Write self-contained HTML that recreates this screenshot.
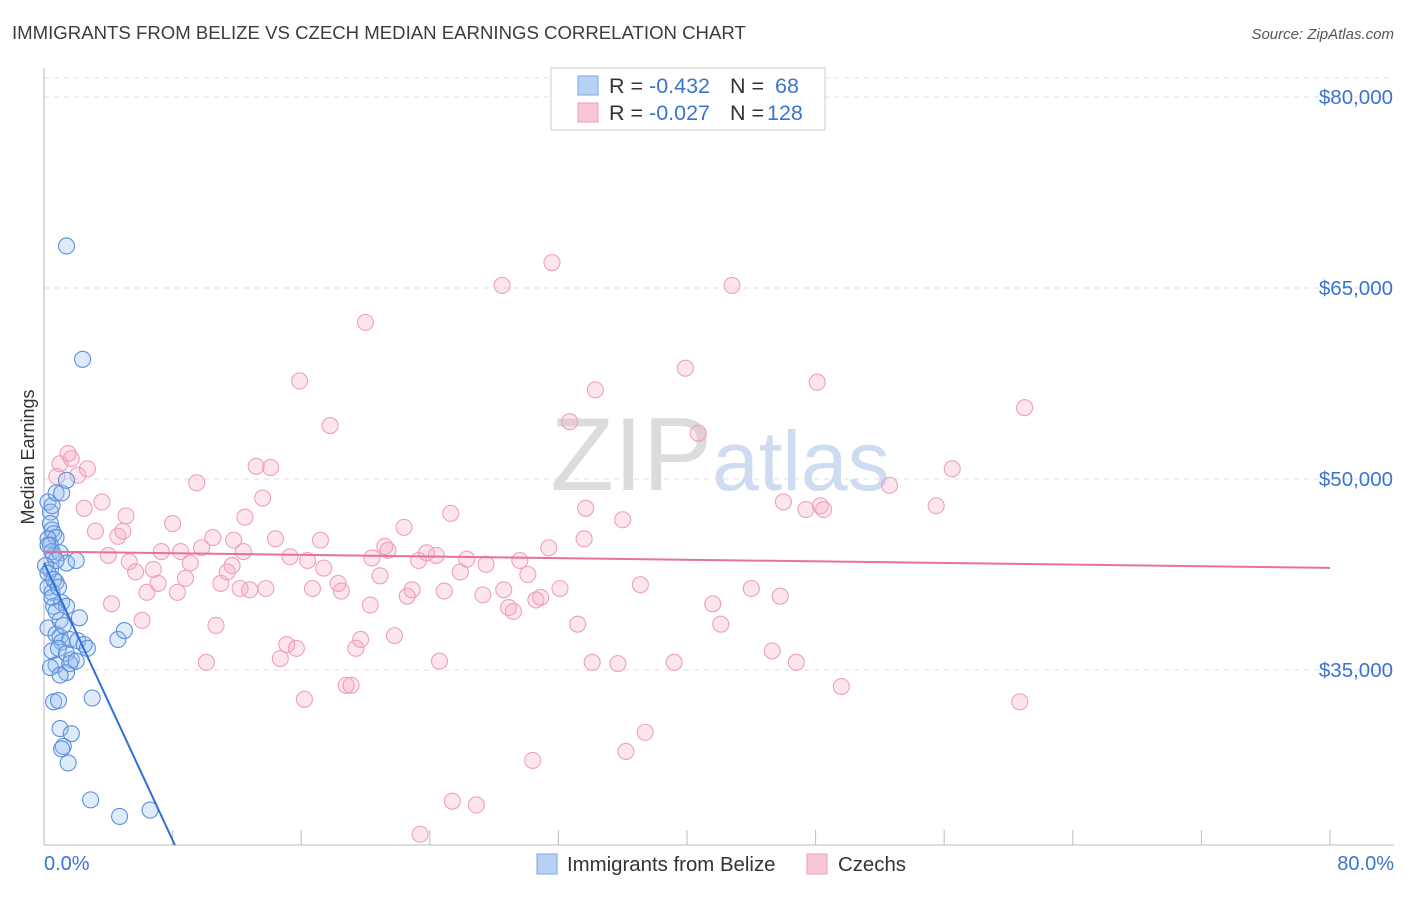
<!DOCTYPE html>
<html><head><meta charset="utf-8"><style>
body{margin:0;background:#fff;font-family:"Liberation Sans",sans-serif;}
svg text{font-family:"Liberation Sans",sans-serif;}
</style></head><body>
<svg id="chart" width="1406" height="892" xmlns="http://www.w3.org/2000/svg">
<text x="12" y="39" font-size="18.6" fill="#3c3c3c">IMMIGRANTS FROM BELIZE VS CZECH MEDIAN EARNINGS CORRELATION CHART</text>
<text x="1394" y="39" font-size="15" fill="#555" text-anchor="end" font-style="italic">Source: ZipAtlas.com</text>
<text x="720" y="490" font-size="104" text-anchor="middle" font-family="Liberation Serif"><tspan fill="#dcdcdc">ZIP</tspan><tspan fill="#cddcf0" font-family="Liberation Sans" font-size="84">atlas</tspan></text>
<text transform="translate(34,457) rotate(-90)" font-size="18" fill="#333" text-anchor="middle">Median Earnings</text>
<g id="grid"></g><g id="pink"></g><g id="blue"></g><g id="lines"></g>
<g>
<rect x="551" y="68" width="274" height="62" fill="#fff" stroke="#ccc"/>
<rect x="578" y="76" width="20" height="19" fill="#b7d1f5" stroke="#7aa6e4"/>
<rect x="578" y="103" width="20" height="19" fill="#f8c6d4" stroke="#eba0b8"/>
<text x="609" y="93" font-size="21.5" fill="#333">R = <tspan fill="#3a74d2">-0.432</tspan><tspan x="730">N = </tspan><tspan x="775" fill="#3a74d2">68</tspan></text>
<text x="609" y="120" font-size="21.5" fill="#333">R = <tspan fill="#3a74d2">-0.027</tspan><tspan x="730">N = </tspan><tspan x="767" fill="#3a74d2">128</tspan></text>
</g>
<text x="44" y="870" font-size="20" fill="#3a74d2">0.0%</text>
<text x="1394" y="870" font-size="20" fill="#3a74d2" text-anchor="end">80.0%</text>
<rect x="537" y="854" width="20" height="20" fill="#b7d1f5" stroke="#7aa6e4"/>
<text x="567" y="871" font-size="20.4" fill="#333">Immigrants from Belize</text>
<rect x="807" y="854" width="20" height="20" fill="#f8c6d4" stroke="#eba0b8"/>
<text x="838" y="871" font-size="20.4" fill="#333">Czechs</text>
</svg>
<script>
const yTicks=[35000,50000,65000,80000];
const xTicks=[0,8,16,24,32,40,48,56,64,72,80];
const pinkX=[0.8,1.0,1.5,1.7,2.1,2.7,2.5,3.6,3.2,4.0,4.2,4.6,4.9,5.1,5.3,5.7,6.1,6.4,6.8,7.1,7.3,8.0,8.3,8.5,8.8,9.1,9.5,9.8,10.1,10.5,10.7,11.0,11.4,11.7,11.8,12.2,12.4,12.5,12.8,13.2,13.6,13.8,14.1,14.4,14.7,15.1,15.3,15.7,15.9,16.2,16.4,16.7,17.2,17.4,17.8,18.3,18.5,18.8,19.1,19.4,19.7,20.0,20.3,20.4,20.9,21.2,21.4,21.8,22.4,22.6,22.9,23.3,23.4,23.8,24.4,24.6,24.9,25.3,25.4,25.9,26.3,26.9,27.3,27.5,28.5,28.6,28.9,29.2,29.6,30.1,30.4,30.6,30.9,31.4,31.6,32.1,32.7,33.2,33.6,33.7,34.1,34.3,35.7,36.0,36.2,37.1,37.4,39.2,39.9,40.7,41.6,42.1,42.8,44.0,45.3,45.8,46.0,46.8,47.4,48.1,48.3,48.5,49.6,52.6,55.5,56.5,60.7,61.0];
const pinkY=[50.2,51.2,52.0,51.6,50.3,50.8,47.7,48.2,45.9,44.0,40.2,45.5,45.9,47.1,43.5,42.7,38.9,41.1,42.9,41.8,44.3,46.5,41.1,44.3,42.2,43.4,49.7,44.6,35.6,45.4,38.5,41.8,42.7,43.2,45.2,41.4,44.3,47.0,41.3,51.0,48.5,41.4,50.9,45.3,35.9,37.0,43.9,36.7,57.7,32.7,43.6,41.4,45.2,43.0,54.2,41.8,41.2,33.8,33.8,36.7,37.4,62.3,40.1,43.8,42.4,44.7,44.4,37.7,46.2,40.8,41.3,43.6,22.1,44.2,44.0,35.7,41.2,47.3,24.7,42.7,43.7,24.4,40.9,43.3,65.2,41.3,39.9,39.6,43.6,42.5,27.9,40.5,40.7,44.6,67.0,41.4,54.5,38.6,45.3,47.7,35.6,57.0,35.5,46.8,28.6,41.7,30.1,35.6,58.7,53.6,40.2,38.6,65.2,41.4,36.5,40.8,48.2,35.6,47.6,57.6,47.9,47.6,33.7,49.5,47.9,50.8,32.5,55.6];
const blueX=[1.4,2.4,0.25,0.4,0.5,0.75,1.1,1.4,0.4,0.5,0.6,0.75,0.25,0.4,0.5,0.6,1.0,1.4,2.0,0.4,0.75,0.25,0.5,0.6,1.1,1.4,2.2,0.25,0.75,1.0,1.1,1.6,2.1,2.5,2.7,0.5,0.9,1.4,1.7,0.75,1.4,1.6,2.0,0.4,1.0,0.6,0.9,3.0,1.0,1.7,1.2,1.1,1.5,2.9,4.7,6.6,4.6,5.0,0.25,0.75,0.5,1.0,1.2,0.75,0.1,0.25,0.6,0.9];
const blueY=[68.3,59.4,48.2,47.4,47.9,48.9,48.9,49.9,46.5,46.0,45.7,45.4,45.3,44.8,44.3,44.0,44.2,43.4,43.6,42.9,41.9,41.5,41.1,40.0,40.3,40.0,39.1,38.3,37.8,37.6,37.2,37.4,37.3,37.0,36.7,36.5,36.7,36.3,35.8,35.4,34.8,35.5,35.7,35.2,34.6,32.5,32.6,32.8,30.4,30.0,29.0,28.8,27.7,24.8,23.5,24.0,37.4,38.1,44.8,43.6,40.7,38.9,38.5,39.6,43.2,42.6,42.1,41.5];
const blueTrend=[43.4,-2.72];
const pinkTrend=[44.3,-0.016];
const NS="http://www.w3.org/2000/svg";
const X0=44,X1=1330,YB=845;
function sx(v){return X0+(v/80)*(X1-X0);}
function sy(k){return 479-(k-50)*12.733;}
function mk(tag,attrs,parent){const e=document.createElementNS(NS,tag);for(const k in attrs)e.setAttribute(k,attrs[k]);parent.appendChild(e);return e;}
const grid=document.getElementById('grid');
let e=mk('line',{x1:X0,x2:1394,y1:78,y2:78,stroke:'#ddd','stroke-dasharray':'5,5'},grid);


yTicks.forEach(t=>{
 const y=sy(t/1000);
 const l=mk('line',{x1:X0,x2:1394,y1:y,y2:y,stroke:'#ddd','stroke-dasharray':'5,5'},grid);
 
 
 const tx=mk('text',{x:1393,y:y+7,'font-size':20.5,fill:'#3a74d2','text-anchor':'end'},grid);
 tx.textContent='$'+t.toLocaleString('en-US');
 
 
});
e=mk('line',{x1:X0,x2:X0,y1:68,y2:YB,stroke:'#bbb'},grid);


e=mk('line',{x1:X0,x2:1394,y1:YB,y2:YB,stroke:'#bbb'},grid);


xTicks.forEach(t=>{
 const x=sx(t);
 const l=mk('line',{x1:x,x2:x,y1:830,y2:YB,stroke:'#bbb'},grid);
 
 
});
function dots(xs,ys,gid,fill,stroke,name){
 const g=document.getElementById(gid);
 xs.forEach((x,i)=>{
  const c=mk('circle',{cx:sx(x),cy:sy(ys[i]),r:8,fill:fill,stroke:stroke,'stroke-width':1.1},g);
  
  
 });
}
dots(pinkX,pinkY,'pink','rgba(246,170,195,0.3)','#eea0ba','czech-point');
dots(blueX,blueY,'blue','rgba(150,190,240,0.3)','#5b8fdc','belize-point');
const lg=document.getElementById('lines');
const bxEnd=(21.25-blueTrend[0])/blueTrend[1];
e=mk('line',{x1:sx(0),y1:sy(blueTrend[0]),x2:sx(bxEnd),y2:sy(blueTrend[0]+blueTrend[1]*bxEnd),stroke:'#2f6fd6','stroke-width':2},lg);


e=mk('line',{x1:sx(0),y1:sy(pinkTrend[0]),x2:sx(80),y2:sy(pinkTrend[0]+pinkTrend[1]*80),stroke:'#e8709a','stroke-width':2},lg);


</script>
</body></html>
